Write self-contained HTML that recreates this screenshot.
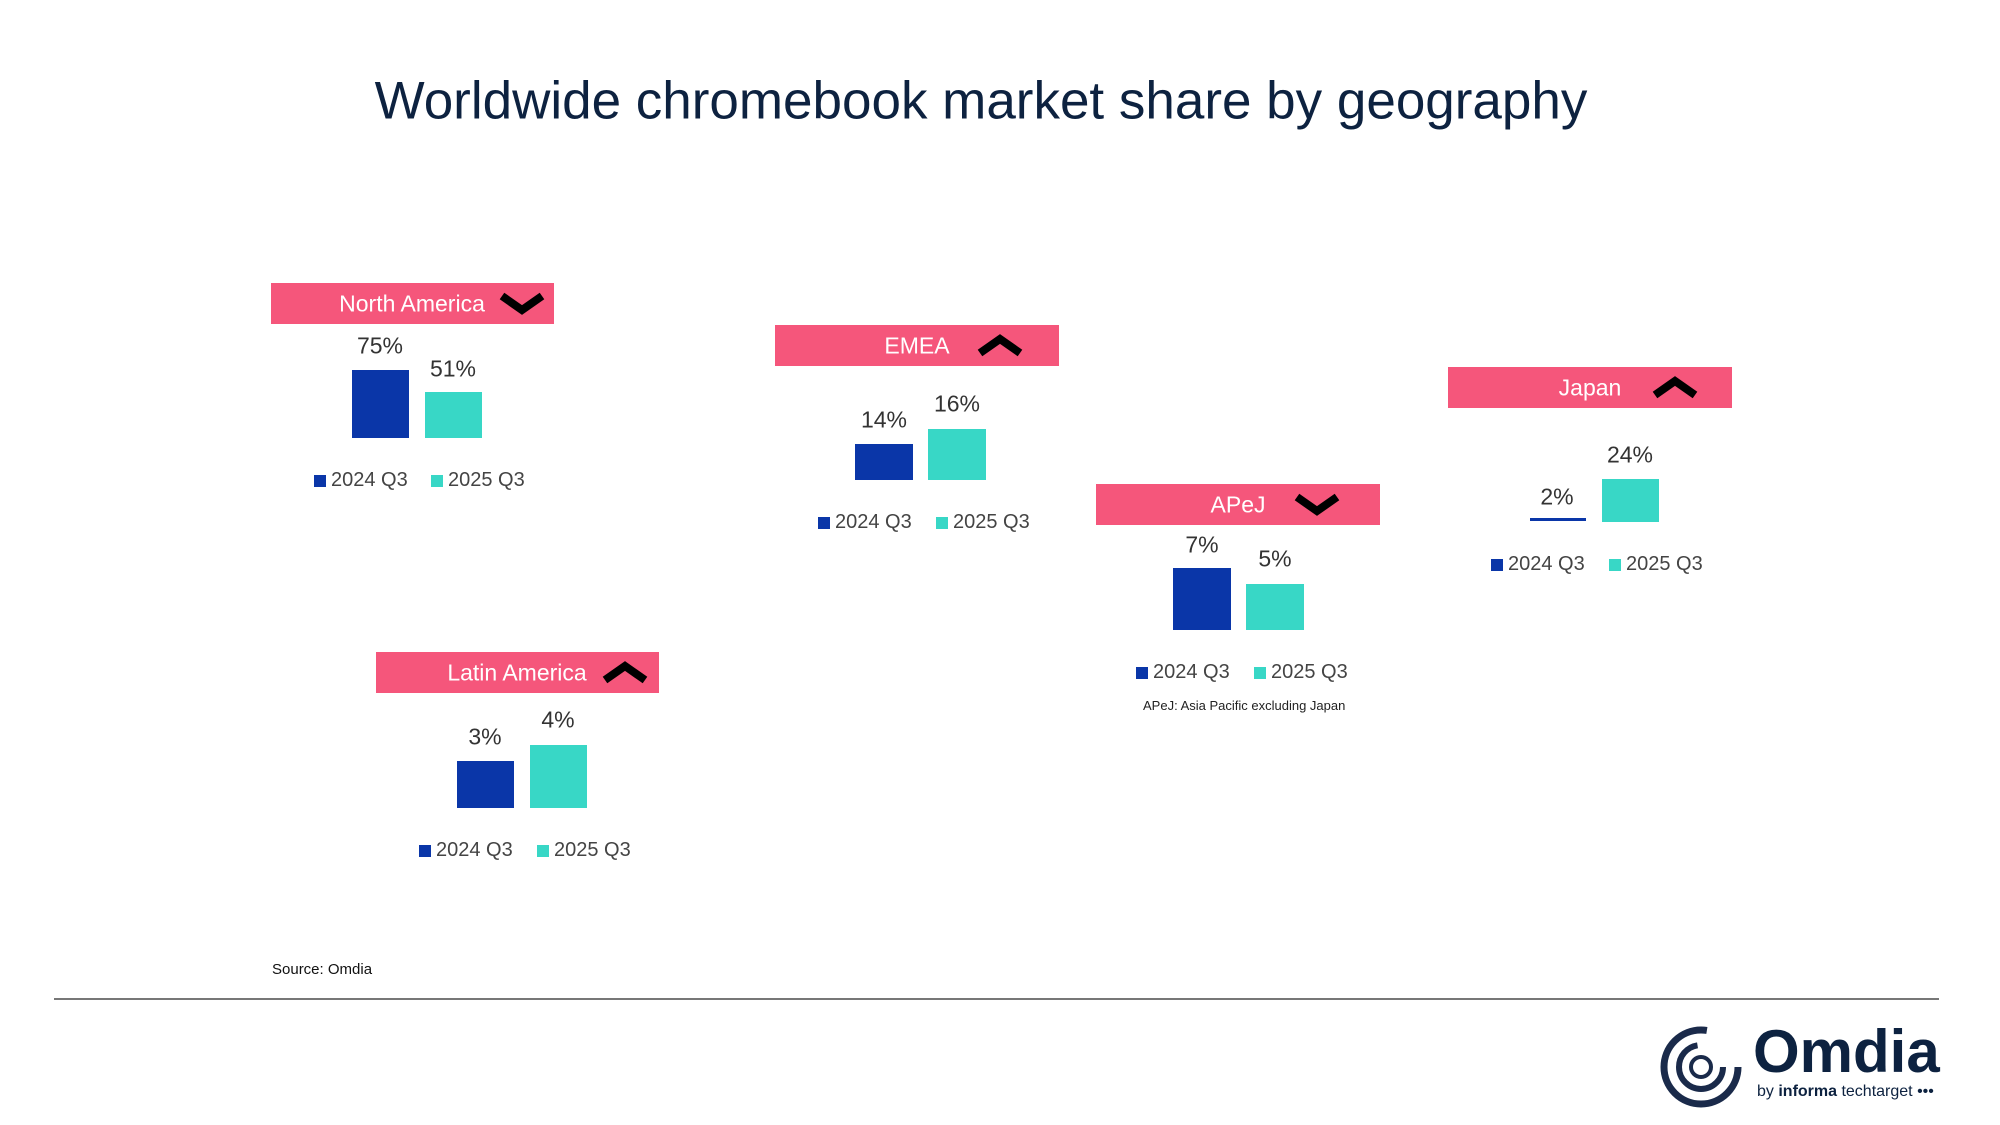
<!DOCTYPE html>
<html><head><meta charset="utf-8"><style>
body{margin:0;width:2000px;height:1125px;background:#fff;position:relative;overflow:hidden;font-family:"Liberation Sans",sans-serif;}
#w{position:absolute;left:0;top:0;width:2000px;height:1125px;transform:translate(-1px,-2px);}
.a{position:absolute;}
.c{position:absolute;transform:translate(-50%,-50%);white-space:nowrap;}
.ban{position:absolute;background:#f5567b;height:41px;}
.bt{color:#fff;font-size:23px;}
.lab{color:#333;font-size:23px;}
.leg{color:#444;font-size:20px;}
.sq{position:absolute;width:12px;height:12px;}
.b{background:#0a36a8}.t{background:#38d7c6}
</style></head><body>
<div id="w">
<div class="c" style="left:982px;top:103px;font-size:53px;color:#0d2240;">Worldwide chromebook market share by geography</div>

<!-- North America -->
<div class="ban" style="left:272px;top:285px;width:283px"></div>
<div class="c bt" style="left:413px;top:306px">North America</div>
<svg class="a" style="left:500px;top:294px" width="46" height="24"><polyline points="3,4 23,18 43,4" fill="none" stroke="#000" stroke-width="8"/></svg>
<div class="a b" style="left:353px;top:372px;width:57px;height:68px"></div>
<div class="a t" style="left:426px;top:394px;width:57px;height:46px"></div>
<div class="c lab" style="left:381px;top:348px">75%</div>
<div class="c lab" style="left:454px;top:371px">51%</div>
<div class="sq b" style="left:315px;top:477px"></div><div class="a leg" style="left:332px;top:471px">2024 Q3</div>
<div class="sq t" style="left:432px;top:477px"></div><div class="a leg" style="left:449px;top:471px">2025 Q3</div>

<!-- EMEA -->
<div class="ban" style="left:776px;top:327px;width:284px"></div>
<div class="c bt" style="left:918px;top:348px">EMEA</div>
<svg class="a" style="left:978px;top:335px" width="46" height="24"><polyline points="3,20 23,6 43,20" fill="none" stroke="#000" stroke-width="8"/></svg>
<div class="a b" style="left:856px;top:446px;width:58px;height:36px"></div>
<div class="a t" style="left:929px;top:431px;width:58px;height:51px"></div>
<div class="c lab" style="left:885px;top:422px">14%</div>
<div class="c lab" style="left:958px;top:406px">16%</div>
<div class="sq b" style="left:819px;top:519px"></div><div class="a leg" style="left:836px;top:513px">2024 Q3</div>
<div class="sq t" style="left:937px;top:519px"></div><div class="a leg" style="left:954px;top:513px">2025 Q3</div>

<!-- Japan -->
<div class="ban" style="left:1449px;top:369px;width:284px"></div>
<div class="c bt" style="left:1591px;top:390px">Japan</div>
<svg class="a" style="left:1653px;top:377px" width="46" height="24"><polyline points="3,20 23,6 43,20" fill="none" stroke="#000" stroke-width="8"/></svg>
<div class="a b" style="left:1531px;top:520px;width:56px;height:3px"></div>
<div class="a t" style="left:1603px;top:481px;width:57px;height:43px"></div>
<div class="c lab" style="left:1558px;top:499px">2%</div>
<div class="c lab" style="left:1631px;top:457px">24%</div>
<div class="sq b" style="left:1492px;top:561px"></div><div class="a leg" style="left:1509px;top:555px">2024 Q3</div>
<div class="sq t" style="left:1610px;top:561px"></div><div class="a leg" style="left:1627px;top:555px">2025 Q3</div>

<!-- APeJ -->
<div class="ban" style="left:1097px;top:486px;width:284px"></div>
<div class="c bt" style="left:1239px;top:507px">APeJ</div>
<svg class="a" style="left:1295px;top:495px" width="46" height="24"><polyline points="3,4 23,18 43,4" fill="none" stroke="#000" stroke-width="8"/></svg>
<div class="a b" style="left:1174px;top:570px;width:58px;height:62px"></div>
<div class="a t" style="left:1247px;top:586px;width:58px;height:46px"></div>
<div class="c lab" style="left:1203px;top:547px">7%</div>
<div class="c lab" style="left:1276px;top:561px">5%</div>
<div class="sq b" style="left:1137px;top:669px"></div><div class="a leg" style="left:1154px;top:663px">2024 Q3</div>
<div class="sq t" style="left:1255px;top:669px"></div><div class="a leg" style="left:1272px;top:663px">2025 Q3</div>
<div class="a" style="left:1144px;top:700px;font-size:13px;color:#222">APeJ: Asia Pacific excluding Japan</div>

<!-- Latin America -->
<div class="ban" style="left:377px;top:654px;width:283px"></div>
<div class="c bt" style="left:518px;top:675px">Latin America</div>
<svg class="a" style="left:603px;top:662px" width="46" height="24"><polyline points="3,20 23,6 43,20" fill="none" stroke="#000" stroke-width="8"/></svg>
<div class="a b" style="left:458px;top:763px;width:57px;height:47px"></div>
<div class="a t" style="left:531px;top:747px;width:57px;height:63px"></div>
<div class="c lab" style="left:486px;top:739px">3%</div>
<div class="c lab" style="left:559px;top:722px">4%</div>
<div class="sq b" style="left:420px;top:847px"></div><div class="a leg" style="left:437px;top:841px">2024 Q3</div>
<div class="sq t" style="left:538px;top:847px"></div><div class="a leg" style="left:555px;top:841px">2025 Q3</div>

<div class="a" style="left:273px;top:963px;font-size:15px;color:#111">Source: Omdia</div>
<div class="a" style="left:55px;top:1000px;width:1885px;height:2px;background:#777"></div>

<!-- logo -->
<svg class="a" style="left:1658px;top:1024px" width="90" height="88">
<circle cx="44" cy="45" r="37" fill="none" stroke="#1a2a4a" stroke-width="7" stroke-dasharray="180 60"/>
<circle cx="44" cy="45" r="22" fill="none" stroke="#1a2a4a" stroke-width="6" stroke-dasharray="100 40"/>
<circle cx="44" cy="45" r="10" fill="none" stroke="#1a2a4a" stroke-width="4"/>
</svg>
<div class="a" style="left:1754px;top:1024px;font-size:60px;font-weight:bold;color:#0d2240;line-height:1">Omdia</div>
<div class="a" style="left:1758px;top:1085px;font-size:16px;color:#0d2240">by <b>informa</b> techtarget •••</div>
</div>
</body></html>
